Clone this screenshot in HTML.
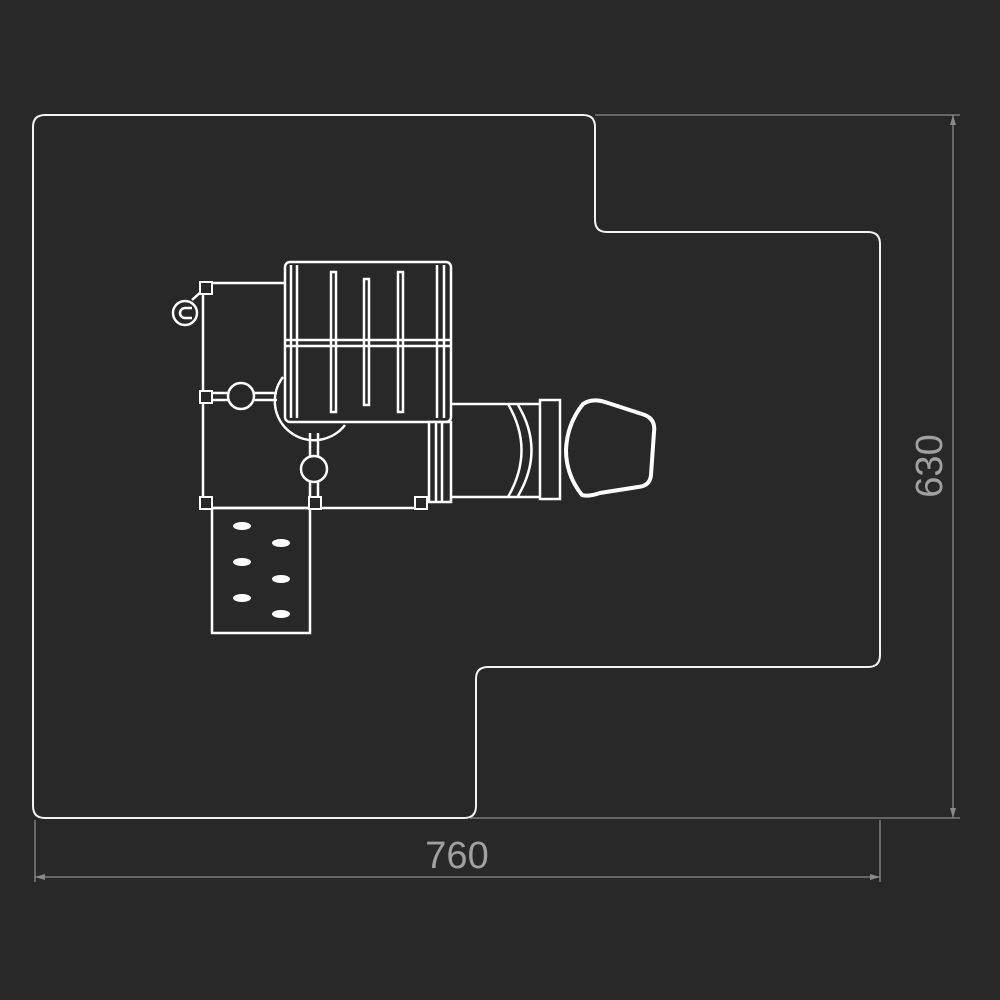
<!DOCTYPE html>
<html><head><style>html,body{margin:0;padding:0;background:#282828;}svg{display:block}</style></head>
<body>
<svg width="1000" height="1000" viewBox="0 0 1000 1000" xmlns="http://www.w3.org/2000/svg">
<rect width="1000" height="1000" fill="#282828"/>
<g stroke="#8a8a8a" stroke-width="1.3" fill="none">
<line x1="35" y1="877" x2="880" y2="877"/>
<line x1="35" y1="820" x2="35" y2="882"/>
<line x1="880" y1="820" x2="880" y2="882"/>
<line x1="470" y1="818" x2="960" y2="818"/>
<line x1="595" y1="115" x2="960" y2="115"/>
<line x1="953" y1="115" x2="953" y2="818"/>
</g>
<g fill="#8a8a8a">
<path d="M35 877 l10 -3 v6z M880 877 l-10 -3 v6z M953 115 l-3 10 h6z M953 818 l-3 -10 h6z"/>
</g>
<text x="457" y="868" text-anchor="middle" font-family="Liberation Sans, sans-serif" font-size="38" fill="#a0a0a0">760</text>
<text transform="translate(942,466) rotate(-90)" text-anchor="middle" font-family="Liberation Sans, sans-serif" font-size="38" fill="#a0a0a0">630</text>
<path d="M45 115 H583 q12 0 12 12 V220 q0 12 12 12 H868 q12 0 12 12 V655 q0 12 -12 12 H488 q-12 0 -12 12 V806 q0 12 -12 12 H45 q-12 0 -12 -12 V127 q0 -12 12 -12 Z" fill="none" stroke="#f2f2f2" stroke-width="2"/>
<g stroke="#fff" stroke-width="2.5" fill="none">
<line x1="203" y1="283" x2="286" y2="283"/>
<line x1="203" y1="283" x2="203" y2="508"/>
<line x1="203" y1="508" x2="422" y2="508"/>
<path d="M283 377 A35 35 0 0 0 345 425"/>
<line x1="210" y1="393" x2="229" y2="393"/><line x1="210" y1="400" x2="229" y2="400"/>
<line x1="253" y1="393" x2="277" y2="393"/><line x1="253" y1="400" x2="277" y2="400"/>
<circle cx="241" cy="396" r="13"/>
<line x1="310" y1="433" x2="310" y2="456"/><line x1="318" y1="433" x2="318" y2="456"/>
<line x1="310" y1="482" x2="310" y2="503"/><line x1="318" y1="482" x2="318" y2="503"/>
<circle cx="314" cy="469" r="13"/>
<rect x="285" y="262" width="166" height="160" rx="5" fill="#282828"/>
<line x1="291" y1="265" x2="291" y2="418"/><line x1="297" y1="265" x2="297" y2="418"/>
<line x1="437" y1="265" x2="437" y2="418"/><line x1="444" y1="265" x2="444" y2="418"/>
<line x1="285" y1="340" x2="451" y2="340"/><line x1="285" y1="346" x2="451" y2="346"/>
<rect x="331" y="272" width="5" height="140"/>
<rect x="364" y="279" width="5" height="126"/>
<rect x="398" y="272" width="5" height="140"/>
<rect x="429" y="422" width="22" height="80" fill="#282828"/>
<line x1="436" y1="422" x2="436" y2="502"/><line x1="442" y1="422" x2="442" y2="502"/>
<line x1="451" y1="404" x2="540" y2="404"/>
<line x1="451" y1="497" x2="540" y2="497"/>
<path d="M508 404 Q535 450 508 497"/>
<path d="M518 405 Q545 450 518 496"/>
<rect x="540" y="400" width="20" height="99"/>
<path d="M583 404 Q592 398 605 402 L642 414 Q656 418 654 432 L651 475 Q650 486 638 487 L600 493 Q588 497 582 495 Q566 475 566 450 Q567 424 583 404 Z" stroke-width="4"/>
<rect x="212" y="508" width="98" height="125"/>
<circle cx="185" cy="313" r="12"/>
<path d="M192 308 H185 A5 5 0 0 0 185 318 H192"/>
<line x1="192" y1="300" x2="203" y2="290"/>
</g>
<g fill="#282828" stroke="#fff" stroke-width="2">
<rect x="200" y="282" width="12" height="12"/>
<rect x="200" y="391" width="12" height="12"/>
<rect x="200" y="497" width="12" height="12"/>
<rect x="309" y="497" width="12" height="12"/>
<rect x="415" y="497" width="12" height="12"/>
</g>
<g fill="#fff">
<ellipse cx="242" cy="526" rx="9" ry="4"/>
<ellipse cx="281" cy="543" rx="9" ry="4"/>
<ellipse cx="242" cy="562" rx="9" ry="4"/>
<ellipse cx="281" cy="579" rx="9" ry="4"/>
<ellipse cx="242" cy="598" rx="9" ry="4"/>
<ellipse cx="281" cy="614" rx="9" ry="4"/>
</g>
</svg>
</body></html>
